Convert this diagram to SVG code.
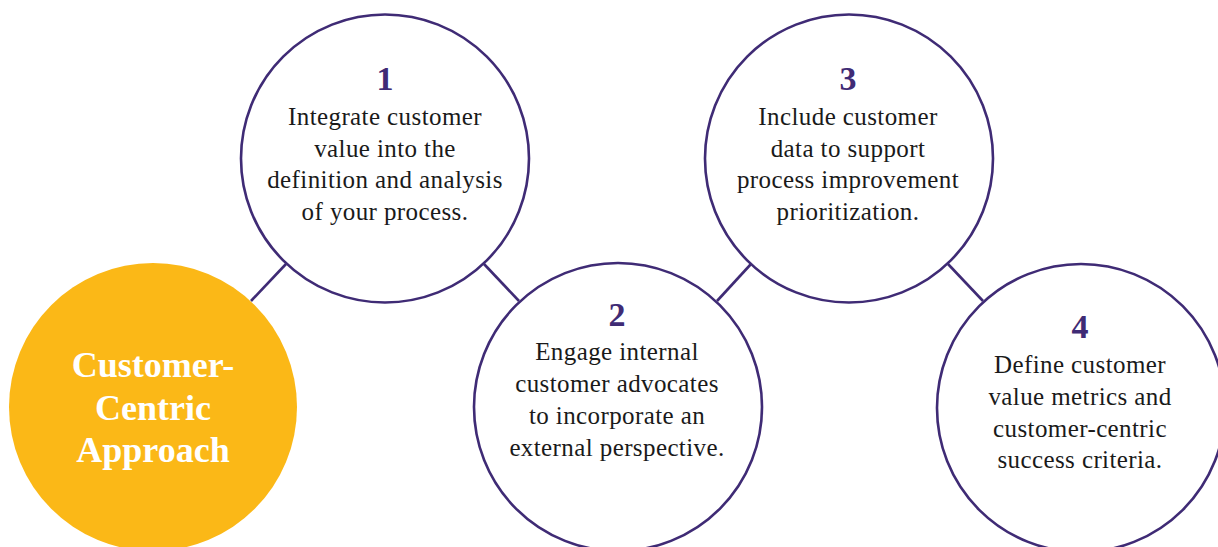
<svg xmlns="http://www.w3.org/2000/svg" width="1218" height="547" viewBox="0 0 1218 547">
<style>
.ring{fill:#ffffff;stroke:#3f2b75;stroke-width:2.6}
.core{fill:#fbb817}
.num{font-family:"Liberation Serif",serif;font-weight:bold;font-size:34px;fill:#3f2b75;text-anchor:middle}
.body{font-family:"Liberation Serif",serif;font-size:25px;fill:#1a1a1a;text-anchor:middle;letter-spacing:0.4px}
.title{font-family:"Liberation Serif",serif;font-weight:bold;font-size:36px;fill:#ffffff;text-anchor:middle}
.conn{stroke:#3f2b75;stroke-width:2.6;fill:none}
</style>
<rect width="1218" height="547" fill="#ffffff"/>
<g id="connectors">
<line class="conn" x1="251" y1="301" x2="286" y2="264"/>
<line class="conn" x1="484" y1="264" x2="519" y2="301"/>
<line class="conn" x1="717" y1="301" x2="751" y2="264"/>
<line class="conn" x1="948" y1="264" x2="983" y2="301"/>
</g>
<g id="core">
<circle class="core" cx="153" cy="407" r="144"/>
<text class="title" x="153" y="377">Customer-</text>
<text class="title" x="153" y="420">Centric</text>
<text class="title" x="153" y="462">Approach</text>
</g>
<g id="step1">
<circle class="ring" cx="385" cy="158.5" r="144"/>
<text class="num" x="385" y="90">1</text>
<text class="body" x="385" y="125">Integrate customer</text>
<text class="body" x="385" y="157">value into the</text>
<text class="body" x="385" y="188">definition and analysis</text>
<text class="body" x="385" y="220">of your process.</text>
</g>
<g id="step2">
<circle class="ring" cx="618" cy="407" r="144"/>
<text class="num" x="617" y="326">2</text>
<text class="body" x="617" y="360">Engage internal</text>
<text class="body" x="617" y="392">customer advocates</text>
<text class="body" x="617" y="424">to incorporate an</text>
<text class="body" x="617" y="456">external perspective.</text>
</g>
<g id="step3">
<circle class="ring" cx="849" cy="158.5" r="144"/>
<text class="num" x="848" y="90">3</text>
<text class="body" x="848" y="125">Include customer</text>
<text class="body" x="848" y="157">data to support</text>
<text class="body" x="848" y="188">process improvement</text>
<text class="body" x="848" y="220">prioritization.</text>
</g>
<g id="step4">
<circle class="ring" cx="1081" cy="408" r="144"/>
<text class="num" x="1080" y="338">4</text>
<text class="body" x="1080" y="373">Define customer</text>
<text class="body" x="1080" y="405">value metrics and</text>
<text class="body" x="1080" y="437">customer-centric</text>
<text class="body" x="1080" y="468">success criteria.</text>
</g>
</svg>
